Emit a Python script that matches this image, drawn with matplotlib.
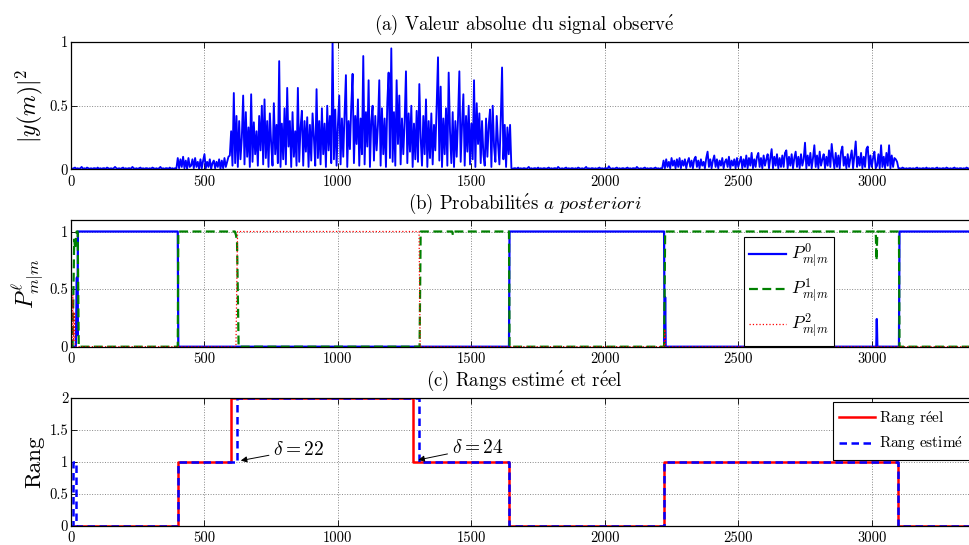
import numpy as np
import matplotlib
matplotlib.use("Agg")
import matplotlib.pyplot as plt

plt.rcParams['font.family'] = ['cmr10', 'DejaVu Serif']
plt.rcParams['mathtext.fontset'] = 'cm'
plt.rcParams['axes.formatter.use_mathtext'] = True

E_ACUTE = r'$\acute{\mathrm{e}}$'

# ---------------- data ----------------
# (a) |y(m)|^2, sampled every 5 samples, values in hundredths
STEP = 5
seg_starts = [0, 400, 600, 1650, 2220, 3105]
seg_floor_a = [
    1, 0.5, 1, 1.5, 0.5, 1, 0.5, 1, 2, 0.5,
    1, 0.5, 1.5, 1, 0.5, 1, 0.5, 1, 1, 0.5,
    1.5, 0.5, 1, 0.5, 1, 1, 0.5, 1.5, 1, 0.5,
    1, 0.5, 1, 2, 1, 0.5, 1, 0.5, 1, 1.5,
    0.5, 1, 0.5, 1, 1, 0.5, 2, 1, 0.5, 1,
    0.5, 1, 1.5, 0.5, 1, 0.5, 1, 1, 0.5, 1,
    0.5, 1.5, 1, 0.5, 1, 0.5, 1, 2, 0.5, 1,
    0.5, 1, 1, 0.5, 1.5, 0.5, 1, 0.5, 1, 1]
seg_rank1_a = [
    9, 1, 8, 2, 10, 1, 7, 0.5, 9, 2,
    3, 8, 1, 9, 2, 6, 0.5, 8, 1, 7,
    12, 1, 6, 2, 8, 0.5, 5, 7, 1, 6,
    2, 8, 0.5, 7, 1, 9, 2, 6, 10, 11]
seg_rank2 = [
    30, 3, 60, 5, 42, 2, 38, 8, 25, 58,
    4, 45, 10, 33, 2, 59, 6, 37, 12, 30,
    3, 42, 15, 50, 4, 55, 9, 38, 2, 44,
    20, 3, 52, 12, 35, 5, 85, 2, 36, 8,
    48, 4, 64, 18, 38, 2, 45, 10, 30, 3,
    64, 6, 33, 46, 3, 38, 14, 41, 2, 35,
    7, 44, 25, 3, 63, 9, 38, 4, 48, 12,
    36, 2, 50, 15, 42, 5, 100, 8, 47, 3,
    35, 58, 4, 40, 10, 44, 74, 2, 38, 16,
    50, 75, 5, 42, 20, 55, 3, 40, 12, 89,
    4, 45, 18, 70, 2, 38, 50, 7, 42, 15,
    35, 70, 3, 48, 12, 40, 2, 52, 76, 9,
    95, 6, 45, 3, 70, 20, 58, 4, 40, 12,
    38, 77, 5, 44, 14, 50, 2, 36, 8, 46,
    6, 67, 25, 3, 42, 12, 55, 2, 38, 9,
    44, 4, 35, 15, 50, 88, 7, 65, 2, 40,
    12, 48, 3, 76, 30, 5, 45, 2, 38, 10,
    40, 77, 6, 35, 59, 3, 42, 14, 50, 4,
    36, 8, 70, 2, 52, 20, 44, 5, 38, 12,
    3, 40, 10, 35, 47, 2, 50, 18, 6, 42,
    20, 4, 38, 80, 8, 35, 2, 33, 12, 35]
seg_floor_b = [
    1, 0.5, 1, 1, 0.5, 1.5, 0.5, 1, 0.5, 1,
    1, 0.5, 1, 2, 0.5, 1, 0.5, 1, 1, 0.5,
    1.5, 0.5, 1, 0.5, 1, 1, 0.5, 1, 1.5, 0.5,
    1, 0.5, 1, 1, 0.5, 2, 1, 0.5, 1, 0.5,
    1, 1.5, 0.5, 1, 0.5, 1, 1, 0.5, 1, 0.5,
    1.5, 1, 0.5, 1, 0.5, 1, 2, 0.5, 1, 0.5,
    1, 1, 0.5, 1, 0.5, 1, 1.5, 0.5, 1, 0.5,
    1, 1, 0.5, 2.5, 1, 0.5, 1, 0.5, 1, 1.5,
    0.5, 1, 0.5, 1, 1, 0.5, 1, 1.5, 0.5, 1,
    0.5, 1, 1, 0.5, 2, 1, 0.5, 1, 0.5, 1,
    1.5, 0.5, 1, 0.5, 1, 1, 0.5, 1, 1.5, 0.5,
    1, 0.5, 1, 1]
seg_rank1_b = [
    7, 1, 8, 2, 6, 1, 9, 3, 7, 1,
    8, 2, 9, 1, 7, 3, 8, 1, 6, 9,
    2, 7, 1, 8, 10, 2, 7, 1, 8, 3,
    6, 1, 9, 14, 2, 8, 1, 7, 11, 2,
    8, 1, 7, 3, 9, 1, 6, 8, 2, 10,
    1, 7, 3, 8, 1, 9, 2, 6, 10, 1,
    8, 2, 11, 1, 9, 3, 13, 1, 8, 2,
    10, 13, 2, 9, 1, 11, 3, 8, 12, 1,
    9, 16, 1, 10, 3, 12, 1, 9, 2, 11,
    2, 13, 15, 1, 10, 3, 12, 1, 9, 14,
    2, 10, 1, 12, 3, 8, 21, 1, 11, 3,
    13, 1, 9, 19, 2, 11, 1, 14, 3, 8,
    12, 1, 10, 3, 15, 2, 20, 9, 1, 13,
    2, 11, 1, 14, 18, 3, 10, 1, 12, 2,
    9, 15, 1, 11, 22, 2, 10, 3, 13, 1,
    10, 2, 16, 18, 1, 11, 2, 9, 14, 1,
    3, 12, 1, 19, 2, 10, 1, 13, 3, 19,
    1, 11, 2, 9, 8, 6, 1]
seg_floor_c = [
    1, 0.5, 1.5, 1, 0.5, 1, 0.5, 1, 1, 0.5,
    1, 0.5, 1, 1.5, 0.5, 1, 0.5, 1, 1, 0.5,
    1.5, 0.5, 1, 0.5, 1, 1, 0.5, 1, 1.5, 0.5,
    1, 0.5, 1, 1, 0.5, 1.5, 1, 0.5, 1, 0.5,
    1, 1.5, 0.5, 1, 0.5, 1, 1, 0.5, 1, 0.5,
    1.5, 1, 0.5, 1, 0.5, 1, 1, 0.5, 1, 0.5]
signal_segments = [seg_floor_a, seg_rank1_a, seg_rank2,
                   seg_floor_b, seg_rank1_b, seg_floor_c]

# (b) posterior probabilities (vertices of piecewise curves)
p0_m = [0, 18, 22, 24, 26, 400, 402, 1641, 1643, 2222, 2224, 2226, 2228,
        3017, 3019, 3021, 3102, 3104, 3400]
p0_v = [0, 0, 0.6, 0.1, 1, 1, 0, 0, 1, 1, 0, 0.43, 0,
        0, 0.24, 0, 0, 1, 1]
p1_m = [0, 6, 12, 16, 21, 25, 29, 400, 402, 614, 618, 622, 628, 1306, 1310,
        1428, 1431, 1434, 1641, 1643, 2222, 2226, 3015, 3018, 3021, 3102,
        3104, 3400]
p1_v = [0, 0, 0.93, 0.85, 1, 1, 0, 0, 1, 1, 0.97, 0.92, 0, 0, 1,
        1, 0.97, 1, 1, 0, 0, 1, 1, 0.75, 1, 1,
        0, 0]
p2_m = [0, 4, 7, 10, 13, 16, 618, 624, 1304, 1308, 2223, 2225, 2227, 3400]
p2_v = [0, 0, 0.45, 0.05, 0.3, 0, 0, 1, 1, 0, 0, 0.15, 0, 0]

# (c) ranks (step changes)
rank_true_m = [0, 400, 600, 1280, 1640, 2220, 3100, 3400]
rank_true_v = [0, 1, 2, 1, 0, 1, 0, 0]
rank_est_m = [0, 8, 20, 400, 622, 1304, 1640, 2220, 3100, 3400]
rank_est_v = [0, 1, 0, 1, 2, 1, 0, 1, 0, 0]

# ---------------- figure ----------------
W, H = 970, 545
fig = plt.figure(figsize=(W / 100, H / 100), dpi=100)

def px_axes(left, top, right, bottom):
    return fig.add_axes([left / W, 1 - bottom / H, (right - left) / W, (bottom - top) / H])

axA = px_axes(71, 42, 978.5, 169.5)
axB = px_axes(71, 220, 978.5, 346.7)
axC = px_axes(71, 398, 978.5, 525.7)

BLUE = '#0000ff'
GREEN = '#008000'
RED = '#ff0000'

# (a)
m_sig = np.concatenate([np.arange(s, s + STEP * len(v), STEP)
                        for s, v in zip(seg_starts, signal_segments)])
y_sig = np.concatenate([np.asarray(v, dtype=float) for v in signal_segments]) / 100.0
axA.plot(m_sig, y_sig, color=BLUE, lw=1.35)
axA.set_ylim(0, 1)
axA.set_yticks([0, 0.5, 1])
axA.set_yticklabels(['0', '0.5', '1'])
axA.set_ylabel(r'$|y(m)|^2$', fontsize=17)
axA.set_title('(a) Valeur absolue du signal observ' + E_ACUTE, fontsize=13.5, pad=9)

# (b)
axB.plot(p0_m, p0_v, color=BLUE, lw=1.6, label=r'$P^0_{m|m}$')
axB.plot(p1_m, p1_v, color=GREEN, lw=1.6, dashes=(4, 2), label=r'$P^1_{m|m}$')
axB.plot(p2_m, p2_v, color=RED, lw=0.9, ls=':', label=r'$P^2_{m|m}$')
axB.set_ylim(0, 1.1)
axB.set_yticks([0, 0.5, 1])
axB.set_yticklabels(['0', '0.5', '1'])
axB.set_ylabel(r'$P^{\ell}_{m|m}$', fontsize=17)
axB.set_title('(b) Probabilit' + E_ACUTE + r's $\mathit{a\ posteriori}$', fontsize=13.5, pad=8)
legB = axB.legend(loc='upper left', bbox_to_anchor=((744 - 71) / 907.5, 1 - (237 - 220) / 126.7),
                  borderaxespad=0, fontsize=12.5, handlelength=2.1, labelspacing=0.4,
                  fancybox=False, framealpha=1, edgecolor='black', borderpad=0.3,
                  handletextpad=0.3)
legB.get_frame().set_linewidth(0.8)

# (c)
axC.step(rank_true_m, rank_true_v, where='post', color=RED, lw=1.8,
         label='Rang r' + E_ACUTE + 'el')
axC.step(rank_est_m, rank_est_v, where='post', color=BLUE, lw=1.8, dashes=(3, 1.8),
         label='Rang estim' + E_ACUTE)
axC.set_ylim(0, 2)
axC.set_yticks([0, 0.5, 1, 1.5, 2])
axC.set_yticklabels(['0', '0.5', '1', '1.5', '2'])
axC.set_ylabel('Rang', fontsize=16.5)
axC.set_title('(c) Rangs estim' + E_ACUTE + ' et r' + E_ACUTE + 'el', fontsize=13.5, pad=9)
legC = axC.legend(loc='upper right', bbox_to_anchor=((970 - 71) / 907.5, 1 - (402 - 398) / 127.7),
                  borderaxespad=0, fontsize=11, handlelength=2.3, labelspacing=0.45,
                  fancybox=False, framealpha=1, edgecolor='black', borderpad=0.45,
                  handletextpad=0.3)
legC.get_frame().set_linewidth(0.8)

arrow_kw = dict(arrowstyle='-|>', color='black', lw=0.7, mutation_scale=9,
                shrinkA=1, shrinkB=0)
axC.annotate(r'$\delta = 22$', xy=(636, 1.02), xytext=(757, 1.19), fontsize=14,
             ha='left', va='center', arrowprops=arrow_kw)
axC.annotate(r'$\delta = 24$', xy=(1301, 1.03), xytext=(1426, 1.22), fontsize=14,
             ha='left', va='center', arrowprops=arrow_kw)

for ax in (axA, axB, axC):
    ax.set_xlim(0, 3400)
    ax.set_xticks([0, 500, 1000, 1500, 2000, 2500, 3000])
    ax.set_xticklabels(['0', '500', '1000', '1500', '2000', '2500', '3000'])
    ax.grid(True, ls=':', color='#888888', lw=0.7)
    ax.tick_params(direction='in', top=True, right=True, length=4, width=0.6,
                   labelsize=10.5)
    ax.tick_params(axis='y', pad=2)
    ax.tick_params(axis='x', pad=4)
    for s in ax.spines.values():
        s.set_linewidth(0.9)
    ax.yaxis.set_label_coords(-0.029, 0.5)

fig.savefig('out.png', dpi=100)
